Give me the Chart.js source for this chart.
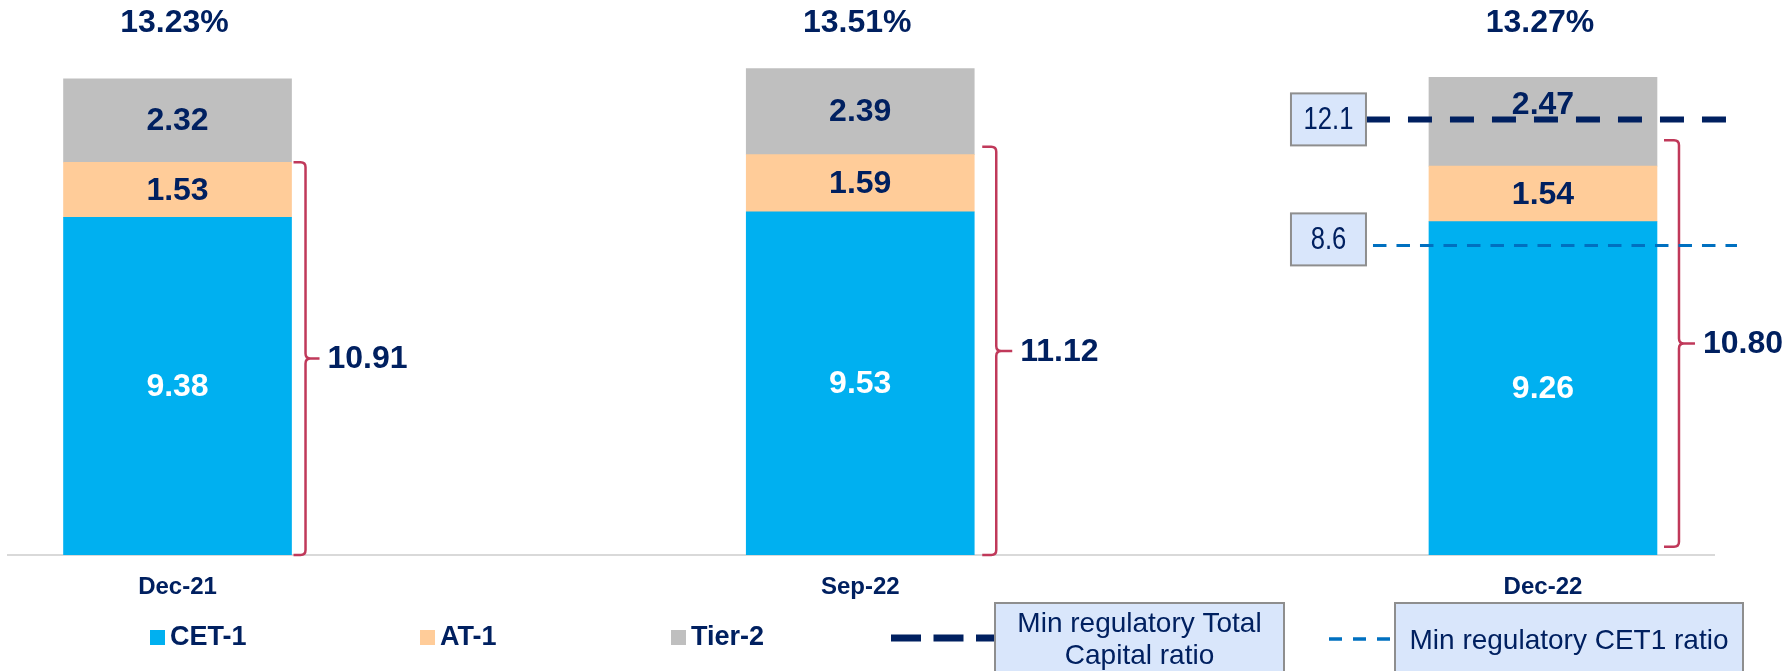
<!DOCTYPE html>
<html><head><meta charset="utf-8">
<script src="https://cdn.jsdelivr.net/npm/chart.js@4.4.1/dist/chart.umd.min.js"></script>
<style>html,body{margin:0;padding:0;background:#fff;overflow:hidden}canvas{display:block}</style>
</head><body>
<canvas id="c" width="1791" height="671"></canvas>
<script>
// ---- data ----
const categories = ['Dec-21', 'Sep-22', 'Dec-22'];
const seriesNames = ['CET-1', 'AT-1', 'Tier-2'];
const cet1 = [9.38, 9.53, 9.26];
const at1 = [1.53, 1.59, 1.54];
const tier2 = [2.32, 2.39, 2.47];
const minTotalCapital = 12.1;
const minCET1 = 8.6;
const refLineNames = ['Min regulatory Total Capital ratio', 'Min regulatory CET1 ratio'];
const bracketSpans = [[0, 10.91], [0, 11.34], [0.23, 11.52]];

// ---- styles ----
const NAVY = '#002060';
const FONT = "'Liberation Sans', Arial, sans-serif";
const COLORS = ['#00B0F0', '#FFCC99', '#BFBFBF'];
const LABEL_COLORS = ['#FFFFFF', NAVY, NAVY];
const BRACKET = '#C0395A';
const BOXFILL = '#D9E6FB';
const BOXLINE = '#8E8E8E';

const toXY = arr => arr.map((v, i) => ({x: i, y: v}));
const seriesValues = [cet1, at1, tier2];

function box(ctx, x, y, w, h) {
  ctx.save();
  ctx.fillStyle = BOXFILL;
  ctx.strokeStyle = BOXLINE;
  ctx.lineWidth = 2;
  ctx.fillRect(x, y, w, h);
  ctx.strokeRect(x, y, w, h);
  ctx.restore();
}
function dashLine(ctx, x1, x2, y, color, width, dash) {
  ctx.save();
  ctx.strokeStyle = color;
  ctx.lineWidth = width;
  ctx.setLineDash(dash);
  ctx.beginPath();
  ctx.moveTo(x1, y);
  ctx.lineTo(x2, y);
  ctx.stroke();
  ctx.restore();
}
function condensedText(ctx, txt, x, y, sx) {
  ctx.save();
  ctx.translate(x, y);
  ctx.scale(sx, 1);
  ctx.fillText(txt, 0, 0);
  ctx.restore();
}

const annot = {
  id: 'annot',
  afterDatasetsDraw(chart) {
    const ctx = chart.ctx;
    const xs = chart.scales.x, ys = chart.scales.y;
    const lastIdx = categories.length - 1;
    const lastDs = chart.data.datasets.length - 1;
    ctx.save();
    ctx.textAlign = 'center';
    ctx.textBaseline = 'middle';

    // segment labels
    chart.data.datasets.forEach((ds, di) => {
      const meta = chart.getDatasetMeta(di);
      meta.data.forEach((el, i) => {
        ctx.font = 'bold 32px ' + FONT;
        ctx.fillStyle = LABEL_COLORS[di];
        const nudge = (di === lastDs && i === lastIdx) ? -18 : 0;
        ctx.fillText(seriesValues[di][i].toFixed(2), el.x, (el.y + el.base) / 2 + 1 + nudge);
      });
    });

    // totals
    categories.forEach((c, i) => {
      const tot = cet1[i] + at1[i] + tier2[i];
      ctx.font = 'bold 32px ' + FONT;
      ctx.fillStyle = NAVY;
      ctx.fillText(tot.toFixed(2) + '%', xs.getPixelForValue(i) - 3, 23);
    });

    // brackets
    const half = 114;
    const offs = [[2, 14, 28], [8, 22, 38], [7, 22, 38]];
    categories.forEach((c, i) => {
      const right = xs.getPixelForValue(i) + half;
      const xL = right + offs[i][0], xV = right + offs[i][1], xT = right + offs[i][2];
      const yT = ys.getPixelForValue(bracketSpans[i][1]);
      const yB = ys.getPixelForValue(bracketSpans[i][0]);
      const yM = (yT + yB) / 2;
      const r = 5;
      ctx.save();
      ctx.strokeStyle = BRACKET;
      ctx.lineWidth = 2.5;
      ctx.beginPath();
      ctx.moveTo(xL, yT);
      ctx.lineTo(xV - r, yT);
      ctx.quadraticCurveTo(xV, yT, xV, yT + r);
      ctx.lineTo(xV, yM - r);
      ctx.quadraticCurveTo(xV, yM, xV + r, yM);
      ctx.lineTo(xT, yM);
      ctx.moveTo(xV + r, yM);
      ctx.quadraticCurveTo(xV, yM, xV, yM + r);
      ctx.lineTo(xV, yB - r);
      ctx.quadraticCurveTo(xV, yB, xV - r, yB);
      ctx.lineTo(xL, yB);
      ctx.stroke();
      ctx.restore();
      ctx.font = 'bold 32px ' + FONT;
      ctx.fillStyle = NAVY;
      ctx.textAlign = 'left';
      ctx.fillText((cet1[i] + at1[i]).toFixed(2), xT + 8, yM + 1);
      ctx.textAlign = 'center';
    });

    // reference lines
    const c3 = xs.getPixelForValue(lastIdx);
    const bx = c3 - 252, bw = 75, bh = 52;
    const yTot = ys.getPixelForValue(minTotalCapital);
    const yCet = ys.getPixelForValue(minCET1);
    dashLine(ctx, bx + bw, c3 + 183, yTot, NAVY, 6, [24, 18]);
    dashLine(ctx, bx + bw + 7, c3 + 194, yCet, '#0070C0', 3, [13.5, 10]);
    box(ctx, bx, yTot - bh / 2, bw, bh);
    box(ctx, bx, yCet - bh / 2 - 6, bw, bh);
    ctx.font = '32px ' + FONT;
    ctx.fillStyle = NAVY;
    condensedText(ctx, String(minTotalCapital), bx + bw / 2, yTot + 1, 0.8);
    condensedText(ctx, String(minCET1), bx + bw / 2, yCet - 5, 0.8);

    // legend
    const legX = [150, 420, 671];
    seriesNames.forEach((n, i) => {
      ctx.fillStyle = COLORS[i];
      ctx.fillRect(legX[i], 630, 15, 15);
      ctx.font = 'bold 27px ' + FONT;
      ctx.fillStyle = NAVY;
      ctx.textAlign = 'left';
      ctx.fillText(n, legX[i] + 20, 638);
    });
    dashLine(ctx, 891, 994, 638, NAVY, 7, [30, 12.5]);
    box(ctx, 995, 603, 289, 80);
    ctx.font = '28px ' + FONT;
    ctx.fillStyle = NAVY;
    ctx.textAlign = 'center';
    ctx.textBaseline = 'alphabetic';
    ctx.fillText('Min regulatory Total', 1139.5, 631.5);
    ctx.fillText('Capital ratio', 1139.5, 664);
    dashLine(ctx, 1329, 1391, 639, '#0070C0', 3.5, [13, 11]);
    box(ctx, 1395, 603, 348, 80);
    ctx.fillText(refLineNames[1], 1569, 648.5);
    ctx.restore();
  }
};

new Chart(document.getElementById('c'), {
  type: 'bar',
  data: {
    datasets: seriesNames.map((n, i) => ({
      label: n,
      data: toXY(seriesValues[i]),
      backgroundColor: COLORS[i],
      borderWidth: 0,
      barThickness: 228
    }))
  },
  options: {
    responsive: false,
    animation: false,
    devicePixelRatio: 1,
    layout: {padding: {left: 8, right: 77, top: 15, bottom: 0}},
    scales: {
      x: {
        type: 'linear', stacked: true, min: -0.2483, max: 2.2505, offset: false,
        afterBuildTicks: s => { s.ticks = categories.map((_, i) => ({value: i})); },
        afterFit: s => { s.height = 116; },
        grid: {display: false, drawTicks: false},
        border: {display: true, color: '#D9D9D9', width: 2},
        ticks: {
          callback: v => categories[v],
          font: {family: FONT, size: 24, weight: 'bold'},
          color: NAVY, padding: 18, maxRotation: 0, autoSkip: false
        }
      },
      y: {display: false, stacked: true, min: 0, max: 15}
    },
    plugins: {legend: {display: false}, tooltip: {enabled: false}}
  },
  plugins: [annot]
});
</script>
</body></html>
